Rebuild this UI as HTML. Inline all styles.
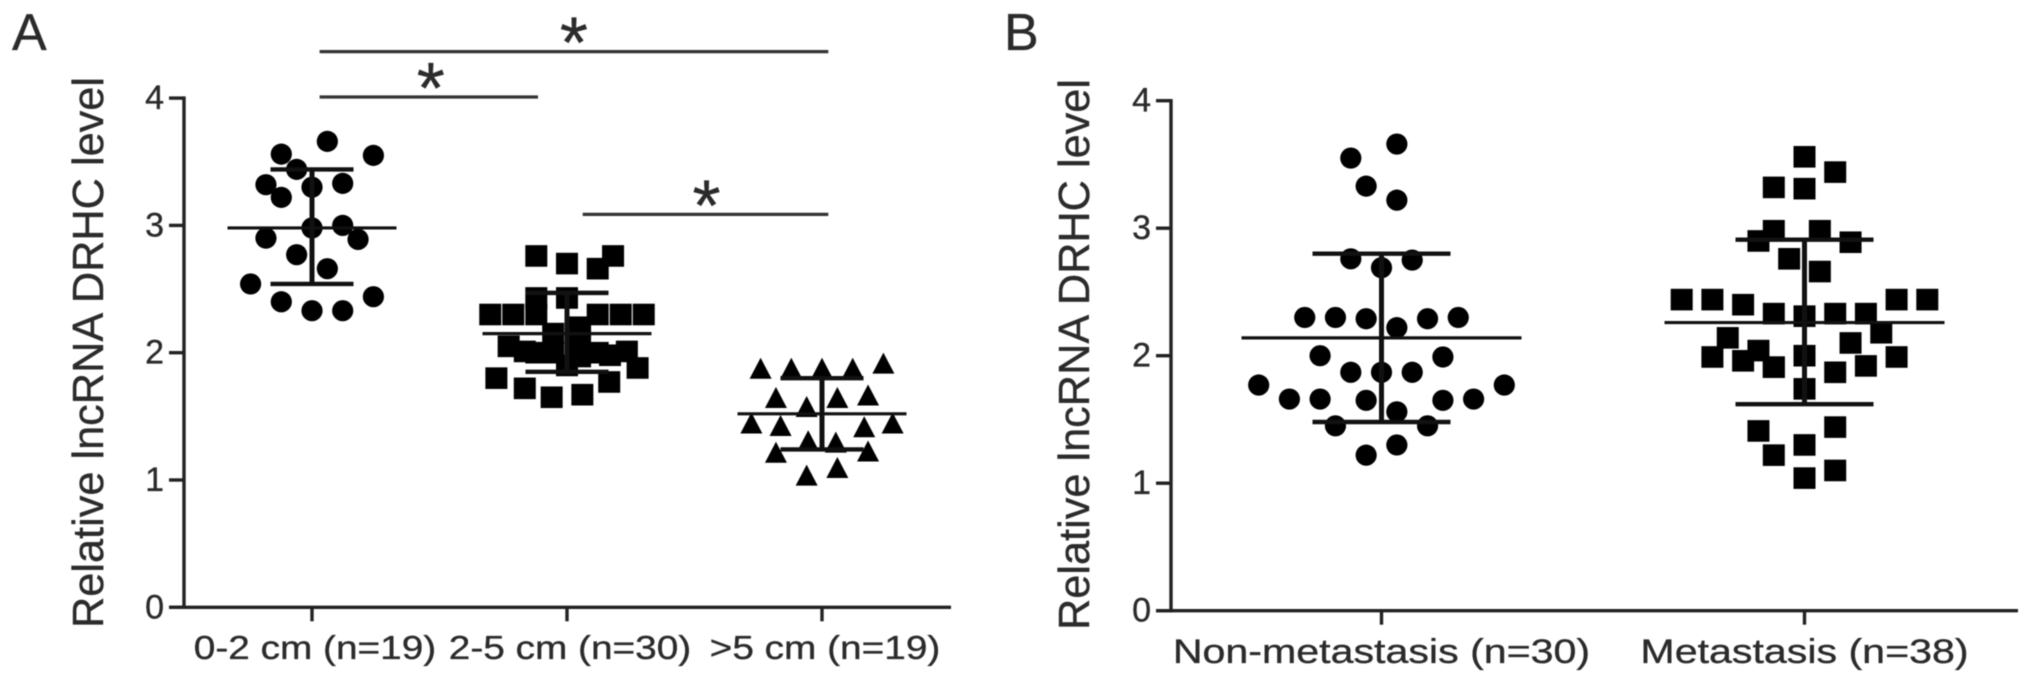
<!DOCTYPE html>
<html lang="en">
<head>
<meta charset="utf-8">
<title>Relative lncRNA DRHC level</title>
<style>
html,body{margin:0;padding:0;background:#fff;}
body{width:2031px;height:687px;overflow:hidden;}
svg{display:block;filter:blur(0.55px);}
text{font-family:"Liberation Sans",sans-serif;fill:#2b2b2b;stroke:#2b2b2b;stroke-width:0.35px;}
</style>
</head>
<body>
<svg id="chart" xmlns="http://www.w3.org/2000/svg" width="2031" height="687" viewBox="0 0 2031 687">
  <rect width="2031" height="687" fill="#fff"/>
  <text x="12" y="50" font-size="52">A</text>
  <text x="1004" y="50" font-size="52">B</text>
</svg>
<script>
// ---- shared axis ticks ----
const yTicks = [0, 1, 2, 3, 4];
const yTitle = 'Relative lncRNA DRHC level';

// ---- panel A: tumor size ----
const sizeCategories = ['0-2 cm (n=19)', '2-5 cm (n=30)', '>5 cm (n=19)'];
const sizeMeans = [2.98, 2.15, 1.52];
const sizeUpper = [3.44, 2.47, 1.80];
const sizeLower = [2.54, 1.85, 1.24];

const small = [3.66,3.56,3.55,3.44,3.32,3.30,3.33,3.22,2.98,3.00,2.90,2.89,2.77,2.66,2.54,2.44,2.40,2.33,2.33];
const smallSwarm = [1,-2,4,-1,-3,0,2,-2,0,2,-3,3,-1,1,-4,4,-2,0,2];

const medium = [2.76,2.70,2.66,2.76,2.43,2.43,2.30,2.30,2.30,2.30,2.30,2.30,1.80,1.72,1.65,1.67,1.77,1.88,2.05,2.01,2.01,1.98,2.20,2.15,2.10,2.00,1.97,2.00,2.00,1.90];
const mediumSwarm = [-2,0,2,3,-2,0,-5,-3.5,-2,2,3.5,5,-4.6,-2.75,-1,1,2.75,4.6,-3.8,-2.75,3.9,2.8,0.85,-0.9,0.85,-0.9,0.85,-2,2,0];

const large = [1.87,1.87,1.87,1.87,1.91,1.64,1.64,1.66,1.57,1.44,1.42,1.41,1.44,1.30,1.29,1.21,1.22,1.03,1.09];
const largeSwarm = [-4,-2,0,2,4,-3,1,3,-1,-4.6,-2.7,2.75,4.6,-0.9,0.9,-3,3,-1,1];

// ---- panel B: metastasis ----
const metCategories = ['Non-metastasis (n=30)', 'Metastasis (n=38)'];
const metMeans = [2.14, 2.26];
const metUpper = [2.80, 2.91];
const metLower = [1.48, 1.62];

const nonMet = [3.66,3.55,3.33,3.22,2.76,2.75,2.69,2.30,2.30,2.29,2.22,2.29,2.30,2.00,1.99,1.87,1.87,1.87,1.77,1.77,1.66,1.66,1.65,1.65,1.66,1.56,1.45,1.45,1.30,1.22];
const nonMetSwarm = [1,-2,-1,1,-2,2,0,-5,-3,-1,1,3,5,-4,4,-2,0,2,-8,8,-6,-4,-1,4,6,1,-3,3,1,-1];

const met = [3.56,3.44,3.32,3.31,2.98,2.98,2.90,2.89,2.76,2.66,2.44,2.44,2.40,2.44,2.44,2.33,2.31,2.33,2.33,2.18,2.14,2.04,2.10,1.99,1.96,1.91,1.91,2.00,1.92,1.99,1.87,1.74,1.41,1.44,1.30,1.22,1.10,1.04];
const metSwarm = [0,2,-2,0,-2,1,-3,3,-1,1,-8,-6,-4,6,8,-2,0,2,4,5,-5,-3,3,-6,-4,-2,-2,0,4,6,2,0,-3,2,0,-2,2,0];

// ---- significance brackets (group index spans) ----
const bracketFrom = [0, 0, 1];
const bracketTo = [2, 1, 2];

const svg = document.getElementById('chart');
const NS = 'http://www.w3.org/2000/svg';

function make(tag, attrs, parent) {
  const el = document.createElementNS(NS, tag);
  for (const k in attrs) el.setAttribute(k, attrs[k]);
  (parent || svg).appendChild(el);
  return el;
}
function drawMark(shape, cx, cy, parent) {
  if (shape === 'circle') return make('circle', {cx: cx, cy: cy, r: 10.6, fill: '#000'}, parent);
  if (shape === 'square') return make('rect', {x: cx - 11, y: cy - 10.8, width: 22, height: 21.6, fill: '#000'}, parent);
  return make('polygon', {points: (cx) + ',' + (cy - 11.5) + ' ' + (cx + 11) + ',' + (cy + 9.5) + ' ' + (cx - 11) + ',' + (cy + 9.5), fill: '#000'}, parent);
}

function drawPanel(p) {
  const y = v => p.y0 - p.unit * v;
  const x = i => p.x0 + p.step * i;

  const axisY = make('line', {x1: p.axisX, x2: p.axisX, y1: y(4) - 1.7, y2: y(0) + 1.7, stroke: '#222', 'stroke-width': 3.4});
  
  

  const axisX = make('line', {x1: p.axisX - 15, x2: p.axisEnd, y1: y(0), y2: y(0), stroke: '#222', 'stroke-width': 3.4});
  
  

  yTicks.forEach(t => {
    const tick = make('line', {x1: p.axisX - 15, x2: p.axisX, y1: y(t), y2: y(t), stroke: '#222', 'stroke-width': 3.4});
    
    

    const lab = make('text', {x: p.axisX - 20, y: y(t) + 11, 'font-size': 34, 'text-anchor': 'end'});
    lab.textContent = t;
    
    
  });

  const title = make('text', {
    transform: 'translate(' + p.titleX + ',' + p.titleY + ') rotate(-90)',
    'font-size': 44, textLength: 551, lengthAdjust: 'spacingAndGlyphs'
  });
  title.textContent = yTitle;
  
  

  p.categories.forEach((c, i) => {
    const tick = make('line', {x1: x(i), x2: x(i), y1: y(0), y2: y(0) + 14, stroke: '#222', 'stroke-width': 3.4});
    
    

    const lab = make('text', {x: x(i) + p.labelShift, y: p.labelY, 'font-size': p.labelSize, 'text-anchor': 'middle'});
    lab.textContent = c;
    lab.setAttribute('textLength', lab.getComputedTextLength() * p.labelStretch);
    lab.setAttribute('lengthAdjust', 'spacingAndGlyphs');
    
    
  });

  p.series.forEach((s, i) => {
    const g = make('g', {});
    
    

    s.values.forEach((v, j) => {
      const m = drawMark(s.shape, x(i) + s.swarm[j] * p.slot, y(v), g);
      
      
    });

    const mean = make('line', {x1: x(i) - p.meanHalf, x2: x(i) + p.meanHalf, y1: y(p.means[i]), y2: y(p.means[i]), stroke: '#111', 'stroke-width': 3.2}, g);
    
    

    const stem = make('line', {x1: x(i), x2: x(i), y1: y(p.upper[i]), y2: y(p.lower[i]), stroke: '#111', 'stroke-width': 5}, g);
    
    

    const capU = make('line', {x1: x(i) - p.capHalf, x2: x(i) + p.capHalf, y1: y(p.upper[i]), y2: y(p.upper[i]), stroke: '#111', 'stroke-width': 4.4}, g);
    
    

    const capL = make('line', {x1: x(i) - p.capHalf, x2: x(i) + p.capHalf, y1: y(p.lower[i]), y2: y(p.lower[i]), stroke: '#111', 'stroke-width': 4.4}, g);
    
    
  });
}

const panelA = {
  id: 'panel-a', y0: 607.3, unit: 127.3, x0: 312, step: 255, axisX: 184, axisEnd: 951,
  titleX: 103, titleY: 628, labelY: 659, labelSize: 33, labelStretch: 1.175, labelShift: 3,
  slot: 15.35, meanHalf: 84.5, capHalf: 41.5,
  categories: sizeCategories, means: sizeMeans, upper: sizeUpper, lower: sizeLower,
  series: [
    {name: 'size-0-2-cm', shape: 'circle', values: small, swarm: smallSwarm},
    {name: 'size-2-5-cm', shape: 'square', values: medium, swarm: mediumSwarm},
    {name: 'size-over-5-cm', shape: 'triangle', values: large, swarm: largeSwarm}
  ]
};
const panelB = {
  id: 'panel-b', y0: 610.7, unit: 127.5, x0: 1381.5, step: 423, axisX: 1171, axisEnd: 2018,
  titleX: 1089, titleY: 630, labelY: 663, labelSize: 34, labelStretch: 1.21, labelShift: 0,
  slot: 15.35, meanHalf: 140, capHalf: 69,
  categories: metCategories, means: metMeans, upper: metUpper, lower: metLower,
  series: [
    {name: 'non-metastasis', shape: 'circle', values: nonMet, swarm: nonMetSwarm},
    {name: 'metastasis', shape: 'square', values: met, swarm: metSwarm}
  ]
};
drawPanel(panelA);
drawPanel(panelB);

// significance bars in panel A
bracketFrom.forEach((from, i) => {
  const xa = [319.6, 319.6, 582.7][i];
  const xb = [828.3, 538, 828.3][i];
  const yy = [51.6, 97, 214.4][i];
  const bar = make('line', {x1: xa, x2: xb, y1: yy, y2: yy, stroke: '#333', 'stroke-width': 3.2});
  
  

  const star = make('text', {x: (xa + xb) / 2 + [0, 2, 1][i], y: yy + 16, 'font-size': 72, 'text-anchor': 'middle'});
  star.textContent = '*';
  
  
});
</script>
</body>
</html>
